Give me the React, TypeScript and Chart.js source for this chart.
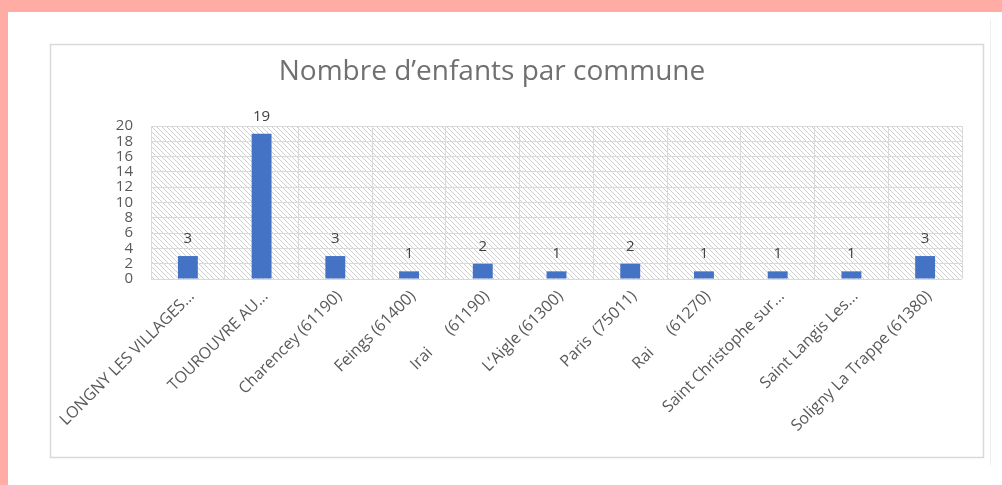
import React, { useEffect, useRef } from "react";
import { Chart, registerables } from "chart.js";

Chart.register(...registerables);

const title = "Nombre d’enfants par commune";
const categories = [
  "LONGNY LES VILLAGES...",
  "TOUROUVRE AU...",
  "Charencey (61190)",
  "Feings (61400)",
  "Irai      (61190)",
  "L’Aigle (61300)",
  "Paris  (75011)",
  "Rai      (61270)",
  "Saint Christophe sur...",
  "Saint Langis Les...",
  "Soligny La Trappe (61380)",
];
const values = [3, 19, 3, 1, 2, 1, 2, 1, 1, 1, 3];
const yMin = 0;
const yMax = 20;
const yStep = 2;

const FONT = "'Open Sans', 'DejaVu Sans', sans-serif";

function makeHatch(): CanvasPattern | string {
  const s = 5;
  const c = document.createElement("canvas");
  c.width = s;
  c.height = s;
  const g = c.getContext("2d");
  if (!g) return "#ffffff";
  g.fillStyle = "#ffffff";
  g.fillRect(0, 0, s, s);
  g.strokeStyle = "#cfcfcf";
  g.lineWidth = 1;
  for (const k of [-s, 0, s]) {
    g.beginPath();
    g.moveTo(k, 0);
    g.lineTo(k + s, s);
    g.stroke();
  }
  const p = g.createPattern(c, "repeat");
  return p || "#ffffff";
}

const framePlugin = {
  id: "frame",
  beforeDraw(chart: any) {
    const { ctx, width, height, chartArea } = chart;
    ctx.save();
    ctx.fillStyle = "#ffffff";
    ctx.fillRect(0, 0, width, height);
    ctx.fillStyle = "#ffaca5";
    ctx.fillRect(0, 0, width, 12);
    ctx.fillRect(0, 0, 8, height);
    ctx.strokeStyle = "#d9d9d9";
    ctx.lineWidth = 1.5;
    ctx.strokeRect(50.5, 44.5, 933, 413);
    ctx.strokeStyle = "#eeeeee";
    ctx.lineWidth = 1;
    ctx.beginPath();
    ctx.moveTo(990.5, 20);
    ctx.lineTo(990.5, 465);
    ctx.stroke();
    ctx.fillStyle = makeHatch();
    ctx.fillRect(chartArea.left, chartArea.top, chartArea.right - chartArea.left, chartArea.bottom - chartArea.top);
    ctx.fillStyle = "#707070";
    ctx.font = `28px ${FONT}`;
    ctx.textAlign = "center";
    ctx.textBaseline = "alphabetic";
    ctx.fillText(title, 492, 80);
    ctx.restore();
  },
};

const labelPlugin = {
  id: "barLabels",
  afterDatasetsDraw(chart: any) {
    const { ctx } = chart;
    const meta = chart.getDatasetMeta(0);
    ctx.save();
    ctx.fillStyle = "#404040";
    ctx.font = `15px ${FONT}`;
    ctx.textAlign = "center";
    ctx.textBaseline = "alphabetic";
    meta.data.forEach((bar: any, i: number) => {
      ctx.fillText(String(values[i]), bar.x, bar.y - 13);
    });
    ctx.restore();
  },
};

export default function App() {
  const ref = useRef<HTMLCanvasElement>(null);
  useEffect(() => {
    if (!ref.current) return;
    const chart = new Chart(ref.current, {
      type: "bar",
      data: {
        labels: categories,
        datasets: [
          {
            data: values,
            backgroundColor: "#4472c4",
            borderWidth: 0,
            categoryPercentage: 1,
            barPercentage: 0.27,
          },
        ],
      },
      options: {
        responsive: false,
        animation: false,
        devicePixelRatio: 1,
        layout: { padding: { left: 111, right: 40, top: 126, bottom: 40 } },
        plugins: {
          legend: { display: false },
          title: { display: false },
          tooltip: { enabled: false },
        },
        scales: {
          x: {
            afterFit: (s: any) => {
              s.height = 166;
            },
            grid: { color: "#d9d9d9", lineWidth: 1, drawTicks: false, offset: true },
            border: { display: false },
            ticks: {
              autoSkip: false,
              minRotation: 45,
              maxRotation: 45,
              padding: 8,
              labelOffset: 4,
              color: "#595959",
              font: { family: FONT, size: 16 },
            },
          },
          y: {
            min: yMin,
            max: yMax,
            afterFit: (s: any) => {
              s.width = 40;
            },
            grid: { color: "#d9d9d9", lineWidth: 1, drawTicks: false },
            border: { display: false },
            ticks: {
              stepSize: yStep,
              autoSkip: false,
              padding: 18,
              color: "#595959",
              font: { family: FONT, size: 15, lineHeight: 1 },
            },
          },
        },
      },
      plugins: [framePlugin, labelPlugin],
    });
    return () => chart.destroy();
  }, []);
  return (
    <div style={{ position: "fixed", left: 0, top: 0, width: 1002, height: 485 }}>
      <canvas ref={ref} width={1002} height={485} />
    </div>
  );
}
